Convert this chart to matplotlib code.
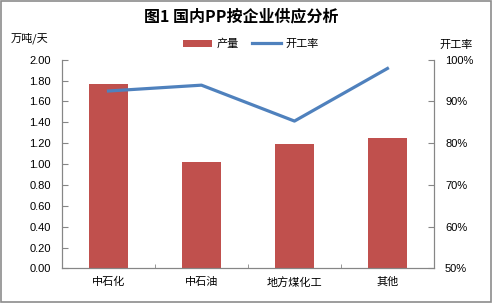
import matplotlib.pyplot as plt
import numpy as np
from matplotlib.patches import Rectangle

plt.rcParams['font.family'] = ['Noto Sans CJK SC', 'DejaVu Sans']

categories = ['中石化', '中石油', '地方煤化工', '其他']
output = [1.765, 1.02, 1.19, 1.25]         # 万吨/天
utilization = [92.5, 93.9, 85.3, 97.9]     # %
left_ticks = [0.0, 0.2, 0.4, 0.6, 0.8, 1.0, 1.2, 1.4, 1.6, 1.8, 2.0]
right_ticks = [50, 60, 70, 80, 90, 100]

BAR_C = '#C0504D'
LINE_C = '#4F81BD'
AX_C = '#868686'
num_font = ['Liberation Sans', 'DejaVu Sans']

fig = plt.figure(figsize=(4.92, 3.03), dpi=100)
ax = fig.add_axes([0.126, 0.114, 0.756, 0.689])
ax2 = ax.twinx()

x = np.arange(len(categories))
bars = ax.bar(x, output, width=0.41, color=BAR_C, zorder=2)
line, = ax2.plot(x, utilization, color=LINE_C, lw=2.3, zorder=3)

ax.set_xlim(-0.5, len(categories) - 0.5)
ax.set_ylim(0, 2.0)
ax2.set_ylim(50, 100)

ax.set_yticks(left_ticks)
ax.set_yticklabels([f'{v:.2f}' for v in left_ticks], family=num_font, fontsize=8)
ax2.set_yticks(right_ticks)
ax2.set_yticklabels([f'{v}%' for v in right_ticks], family=num_font, fontsize=8)

ax.set_xticks(x)
ax.set_xticklabels(categories, fontsize=8)
ax.set_xticks(np.arange(-0.5, len(categories)), minor=True)
ax.tick_params(axis='x', which='major', length=0, pad=6)
ax.tick_params(axis='x', which='minor', direction='in', length=3, color=AX_C)
ax.tick_params(axis='y', direction='in', length=4, color=AX_C, pad=8)
ax2.tick_params(axis='y', direction='in', length=4, color=AX_C, pad=8)

for a in (ax, ax2):
    a.spines['top'].set_visible(False)
    for s in ('left', 'right', 'bottom'):
        a.spines[s].set_color(AX_C)
        a.spines[s].set_linewidth(0.8)

fig.text(0.49, 0.945, '图1 国内PP按企业供应分析', ha='center', va='center',
         fontsize=11.5, fontweight='bold')
fig.text(0.022, 0.873, '万吨/天', ha='left', va='center', fontsize=8)
fig.text(0.893, 0.853, '开工率', ha='left', va='center', fontsize=8)

fig.legend([bars, line], ['产量', '开工率'], loc='center', bbox_to_anchor=(0.51, 0.855),
           ncol=2, frameon=False, fontsize=8, handlelength=2.6, handleheight=0.6,
           columnspacing=1.2, handletextpad=0.4)

fig.patches.append(Rectangle((0.002, 0.003), 0.995, 0.993, transform=fig.transFigure,
                             fill=False, edgecolor='#8c8c8c', lw=1.2))

fig.savefig('out.png', dpi=100)
